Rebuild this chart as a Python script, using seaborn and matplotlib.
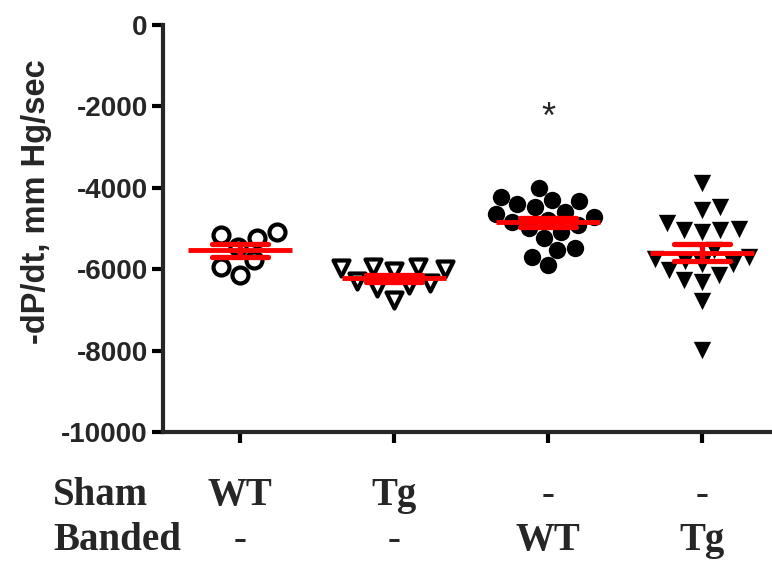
import numpy as np
import pandas as pd
import matplotlib
matplotlib.use("Agg")
import matplotlib.pyplot as plt
import seaborn as sns

# ---- data ----
groups = ["Sham WT", "Sham Tg", "Banded WT", "Banded Tg"]
sham_row = ["WT", "Tg", "-", "-"]
banded_row = ["-", "-", "WT", "Tg"]

sham_wt = [-5080, -5240, -5160, -5450, -5770, -5940, -6140]
sham_tg = [-5950, -6000, -5980, -6050, -5950, -6400, -6450, -6750, -6300, -6350]
banded_wt = [-4000, -4230, -4330, -4400, -4480, -4300, -4600, -4650, -4720, -4780,
             -4850, -4920, -4980, -5080, -5240, -5530, -5490, -5700, -5900]
banded_tg = [-3890, -4550, -4460, -4870, -5040, -5000, -5080, -5030, -5530, -5860,
             -5690, -5860, -6020, -6310, -6140, -6270, -6780, -7990, -5750, -5800]

yticks = [0, -2000, -4000, -6000, -8000, -10000]
ylabel = "-dP/dt, mm Hg/sec"

values = [sham_wt, sham_tg, banded_wt, banded_tg]
df = pd.DataFrame({
    "group": np.concatenate([[g] * len(v) for g, v in zip(groups, values)]),
    "value": np.concatenate(values),
})

sns.set_style("ticks")
plt.rcParams["font.family"] = ["Liberation Sans", "DejaVu Sans"]
plt.rcParams["axes.unicode_minus"] = False

fig = plt.figure(figsize=(7.72, 5.62), dpi=100)
ax = fig.add_axes([163 / 772, (562 - 432) / 562, (770 - 163) / 772, (432 - 25) / 562])

styles = [
    dict(marker="o", facecolor="white", edgecolor="black", linewidth=3.0, size=11.5),
    dict(marker="v", facecolor="white", edgecolor="black", linewidth=3.0, size=11.5),
    dict(marker="o", facecolor="black", edgecolor="black", linewidth=0, size=12.5),
    dict(marker="v", facecolor="black", edgecolor="black", linewidth=0, size=12.5),
]
for g, st in zip(groups, styles):
    sub = df[df["group"] == g]
    sns.swarmplot(data=sub, x="group", y="value", order=groups, ax=ax,
                  marker=st["marker"], color=st["facecolor"],
                  edgecolor=st["edgecolor"], linewidth=st["linewidth"],
                  size=st["size"], zorder=1, warn_thresh=1.0)

sns.pointplot(data=df, x="group", y="value", order=groups, ax=ax,
              errorbar="se", capsize=0.36, color="#ff0000",
              markers="_", markersize=75, markeredgewidth=3.5,
              linestyle="none", err_kws={"linewidth": 3.8}, zorder=5)

ax.set_xlim(-0.5, 3.44)
ax.set_ylim(-10000, 0)
ax.set_yticks(yticks)
ax.set_yticklabels([str(t) for t in yticks], fontsize=20, fontweight="bold")
ax.set_xticks(range(len(groups)))
ax.set_xticklabels([""] * len(groups))
ax.set_xlabel("")
ax.set_ylabel(ylabel, fontsize=23.5, fontweight="bold")
ax.yaxis.set_label_coords(-(163 - 52) / 607, (432 - 202) / 407)

for side in ["top", "right"]:
    ax.spines[side].set_visible(False)
for side in ["left", "bottom"]:
    ax.spines[side].set_linewidth(3)
ax.tick_params(axis="both", width=3, length=8, direction="out", color="black")
ax.tick_params(axis="y", pad=3)

# significance marker
ax.text(2, -2300, "*", ha="center", va="center", fontsize=26,
        family=["Liberation Sans", "DejaVu Sans"])

# group label rows under the axis
serif = ["Liberation Serif", "DejaVu Serif"]
tr = ax.get_xaxis_transform()
y_sham = (432 - 505) / 407
y_band = (432 - 550) / 407
for i in range(len(groups)):
    ax.text(i, y_sham, sham_row[i], transform=tr, ha="center", va="baseline",
            fontsize=28, fontweight="bold", family=serif, clip_on=False)
    ax.text(i, y_band, banded_row[i], transform=tr, ha="center", va="baseline",
            fontsize=28, fontweight="bold", family=serif, clip_on=False)
fig.text(53 / 772, (562 - 505) / 562, "Sham", ha="left", va="baseline",
         fontsize=28, fontweight="bold", family=serif)
fig.text(53 / 772, (562 - 550) / 562, "Banded", ha="left", va="baseline",
         fontsize=28, fontweight="bold", family=serif)

fig.savefig("out.png", dpi=100)
